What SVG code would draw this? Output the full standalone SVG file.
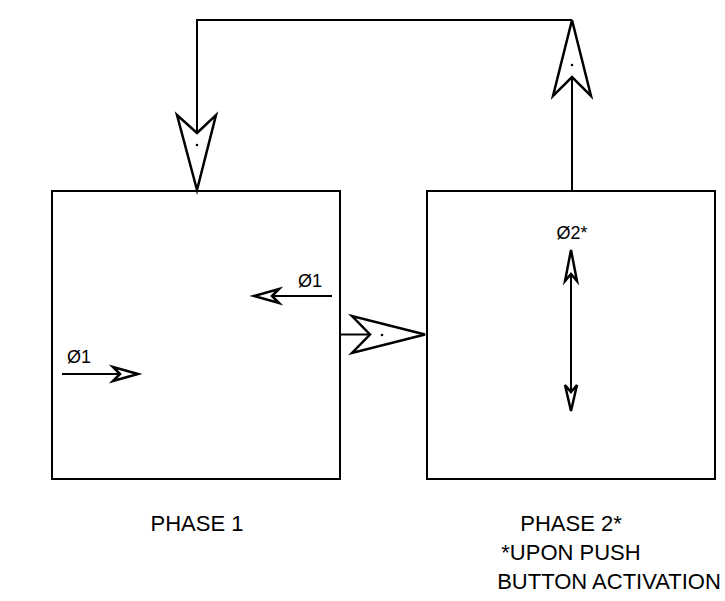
<svg xmlns="http://www.w3.org/2000/svg" width="725" height="601" viewBox="0 0 725 601">
<style>
.box{fill:#fff;stroke:#000;stroke-width:2}
.ln{fill:none;stroke:#000;stroke-width:2}
.ah{fill:#fff;stroke:#000;stroke-width:2.5;stroke-linejoin:miter}
.sah{fill:#fff;stroke:#000;stroke-width:2.5;stroke-linejoin:miter}
.dot{fill:#000}
.t{font-family:"Liberation Sans",Arial,sans-serif;fill:#000}
.lbl{font-size:22px;text-anchor:middle}
.sm{font-size:18px}
</style>
<rect width="725" height="601" fill="#fff"/>
<g id="phase1">
<rect class="box" x="52" y="191" width="288" height="288"/>
<text class="t sm" x="298" y="287">Ø1</text>
<line class="ln" x1="332" y1="296" x2="256" y2="296"/>
<polygon class="sah" points="254,296 279,289 272,296 279,303"/>
<text class="t sm" x="67" y="363">Ø1</text>
<line class="ln" x1="62" y1="374" x2="136" y2="374"/>
<polygon class="sah" points="138,374 113,367 120,374 113,381"/>
<text class="t lbl" x="197" y="531">PHASE 1</text>
</g>
<g id="phase2">
<rect class="box" x="427" y="191" width="288" height="288"/>
<text class="t sm" x="572" y="239" text-anchor="middle">Ø2*</text>
<line class="ln" x1="571" y1="252" x2="571" y2="409"/>
<polygon class="sah" points="571,250 565,281 571,274 577,281"/>
<polygon class="sah" points="571,411 565,385 571,392 577,385"/>
<text class="t lbl" x="571" y="531">PHASE 2*</text>
<text class="t lbl" x="571" y="560">*UPON PUSH</text>
<text class="t lbl" x="609" y="589">BUTTON ACTIVATION</text>
</g>
<g id="connectors">
<line class="ln" x1="340" y1="334.5" x2="370" y2="334.5"/>
<polygon class="ah" points="425,334.5 352,316 370,334.5 352,353"/>
<circle class="dot" cx="382" cy="335" r="1.3"/>
<polyline class="ln" points="572,191 572,77"/>
<polyline class="ln" points="572,20 197,20 197,133"/>
<polygon class="ah" points="572,20 553,96 572,77 591,96"/>
<circle class="dot" cx="572" cy="65" r="1.3"/>
<polygon class="ah" points="197,190 177,115 197,133 216,115"/>
<circle class="dot" cx="197" cy="145" r="1.3"/>
</g>
</svg>
